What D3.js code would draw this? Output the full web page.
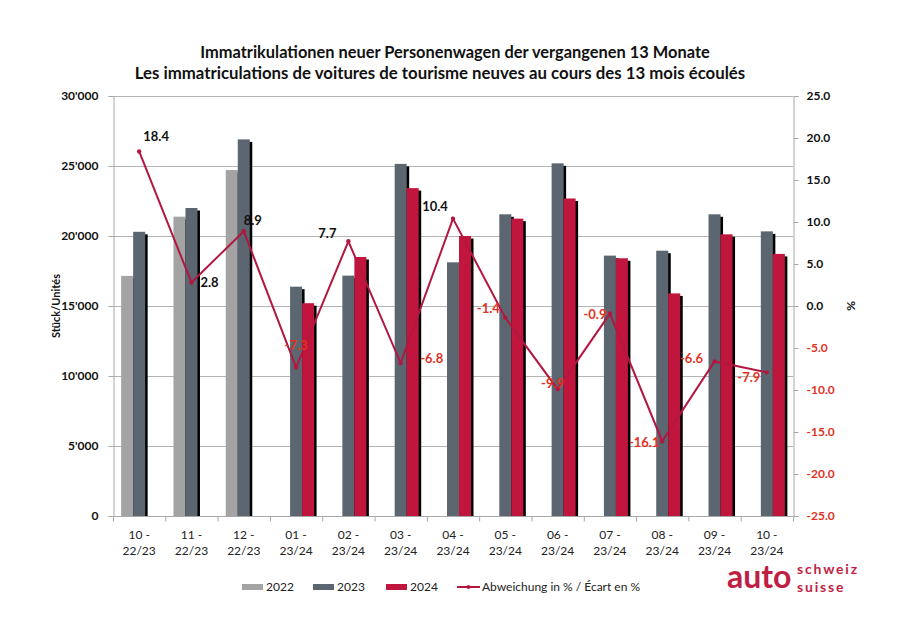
<!DOCTYPE html>
<html>
<head>
<meta charset="utf-8">
<script src="https://cdn.jsdelivr.net/npm/d3@7/dist/d3.min.js"></script>
<style>
  html, body { margin: 0; padding: 0; background: #fff; }
  svg { display: block; }
  text { font-family: Lato, "Open Sans", "DejaVu Sans", sans-serif; }
</style>
</head>
<body>
<svg id="chart" width="900" height="634"></svg>
<script>
// ---------- DATA ----------
const titleLines = [
  "Immatrikulationen neuer Personenwagen der vergangenen 13 Monate",
  "Les immatriculations de voitures de tourisme neuves au cours des 13 mois écoulés"
];
const categories = ["10 - 22/23", "11 - 22/23", "12 - 22/23", "01 - 23/24", "02 - 23/24", "03 - 23/24",
  "04 - 23/24", "05 - 23/24", "06 - 23/24", "07 - 23/24", "08 - 23/24", "09 - 23/24", "10 - 23/24"];
const seriesNames = ["2022", "2023", "2024"];
const values2022 = [17150, 21380, 24710, null, null, null, null, null, null, null, null, null, null];
const values2023 = [20300, 22000, 26900, 16380, 17170, 25150, 18120, 21550, 25190, 18600, 18950, 21550, 20330];
const values2024 = [null, null, null, 15200, 18500, 23420, 20000, 21240, 22680, 18410, 15900, 20120, 18720];
const deviationPct = [18.4, 2.8, 8.9, -7.3, 7.7, -6.8, 10.4, -1.4, -9.9, -0.9, -16.1, -6.6, -7.9];
const leftTicks = [0, 5000, 10000, 15000, 20000, 25000, 30000];
const rightTicks = [-25, -20, -15, -10, -5, 0, 5, 10, 15, 20, 25];
const leftAxisTitle = "Stück/Unités";
const rightAxisTitle = "%";
const lineLegend = "Abweichung in % / Écart en %";

// ---------- LAYOUT / STYLE ----------
const plot = { left: 113, right: 793, top: 96, bottom: 516 };
const colors = { "2022": "#a3a3a3", "2023": "#5b6671", "2024": "#c0163d" };
const lineColor = "#b3173f";
const negColor = "#e2321f";
// label offsets (dx, dy) of each deviation label centre relative to its point
const labelOffsets = [[17,-15],[18,0],[9,-11],[0,-22],[-21,-8],[31,-5],[-18,-12],[-17,-9],[-5,-6],[-15,1],[-18,1],[-23,-3],[-18,5]];

const svg = d3.select("#chart");
const seriesValues = { "2022": values2022, "2023": values2023, "2024": values2024 };

const x = d3.scaleBand().domain(categories).range([plot.left, plot.right]).paddingInner(0).paddingOuter(0);
const bw = x.bandwidth();
const xInner = d3.scaleBand().domain(seriesNames).range([bw / 2 - 18, bw / 2 + 18]).padding(0);
const yL = d3.scaleLinear().domain([0, 30000]).range([plot.bottom, plot.top]);
const yR = d3.scaleLinear().domain([-25, 25]).range([plot.bottom, plot.top]);

const locale = d3.formatLocale({ decimal: ".", thousands: "'", grouping: [3], currency: ["", ""], minus: "-" });
const fmtL = locale.format(",");
const fmtR = locale.format(".1f");

// gridlines
svg.append("g").selectAll("line").data(leftTicks.filter(d => d > 0)).join("line")
  .attr("x1", plot.left).attr("x2", plot.right)
  .attr("y1", d => yL(d) + 0.5).attr("y2", d => yL(d) + 0.5)
  .attr("stroke", "#b4b4b4").attr("stroke-width", 1);

// left axis
const gL = svg.append("g").attr("transform", `translate(${plot.left + 0.5},0)`)
  .call(d3.axisLeft(yL).tickValues(leftTicks).tickFormat(fmtL).tickSize(5).tickPadding(10));
gL.select(".domain").attr("stroke", "#a8a8a8");
gL.selectAll(".tick line").attr("stroke", "#a8a8a8");
gL.selectAll(".tick text").attr("font-size", 12).attr("font-weight", "bold").attr("fill", "#111");

// right axis
const gR = svg.append("g").attr("transform", `translate(${plot.right + 0.5},0)`)
  .call(d3.axisRight(yR).tickValues(rightTicks).tickFormat(fmtR).tickSize(5).tickPadding(8));
gR.select(".domain").attr("stroke", "#a8a8a8");
gR.selectAll(".tick line").attr("stroke", "#a8a8a8");
gR.selectAll(".tick text").attr("font-size", 12).attr("font-weight", "bold")
  .attr("fill", d => d < 0 ? negColor : "#111");

// bottom axis
const gB = svg.append("g").attr("transform", `translate(0,${plot.bottom + 0.5})`);
gB.append("line").attr("x1", plot.left).attr("x2", plot.right).attr("stroke", "#a8a8a8");
const boundaries = categories.map(c => x(c)).concat([plot.right]);
gB.selectAll("line.tk").data(boundaries).join("line").attr("class", "tk")
  .attr("x1", d => d + 0.5).attr("x2", d => d + 0.5).attr("y1", 0).attr("y2", 5).attr("stroke", "#a8a8a8");
const xl = gB.selectAll("text.xl").data(categories).join("text").attr("class", "xl")
  .attr("text-anchor", "middle").attr("font-size", 12).attr("fill", "#222")
  .attr("transform", d => `translate(${x(d) + bw / 2},0)`);
xl.append("tspan").attr("x", 0).attr("y", 22).text(d => d.split(" - ")[0] + " -");
xl.append("tspan").attr("x", 0).attr("y", 38).text(d => d.split(" - ")[1]);

// bars
seriesNames.forEach(s => {
  const data = categories.map((c, i) => ({ c, v: seriesValues[s][i] })).filter(d => d.v != null);
  const g = svg.append("g");
  const groups = g.selectAll("g").data(data).join("g");
  groups.append("rect")
    .attr("x", d => x(d.c) + xInner(s) + 2.5).attr("y", d => yL(d.v) + 2.5)
    .attr("width", xInner.bandwidth()).attr("height", d => yL(0) - yL(d.v) - 2.5)
    .attr("fill", "#000");
  groups.append("rect")
    .attr("x", d => x(d.c) + xInner(s)).attr("y", d => yL(d.v))
    .attr("width", xInner.bandwidth()).attr("height", d => yL(0) - yL(d.v))
    .attr("fill", colors[s]);
});

// deviation line
const pts = categories.map((c, i) => ({ c, v: deviationPct[i], i }));
const line = d3.line().x(d => x(d.c) + bw / 2).y(d => yR(d.v));
svg.append("path").datum(pts).attr("d", line).attr("fill", "none")
  .attr("stroke", lineColor).attr("stroke-width", 2).attr("stroke-linejoin", "miter");
svg.append("g").selectAll("circle").data(pts).join("circle")
  .attr("cx", d => x(d.c) + bw / 2).attr("cy", d => yR(d.v)).attr("r", 2.2).attr("fill", lineColor);
svg.append("g").selectAll("text").data(pts).join("text")
  .attr("x", d => x(d.c) + bw / 2 + labelOffsets[d.i][0])
  .attr("y", d => yR(d.v) + labelOffsets[d.i][1])
  .attr("dy", "0.35em").attr("text-anchor", "middle")
  .attr("font-size", 13).attr("font-weight", "bold")
  .attr("fill", d => d.v < 0 ? negColor : "#111")
  .text(d => fmtR(d.v));

// axis titles
svg.append("text").attr("transform", `translate(60,${(plot.top + plot.bottom) / 2}) rotate(-90)`)
  .attr("text-anchor", "middle").attr("font-size", 11).attr("font-weight", "bold").attr("fill", "#111")
  .text(leftAxisTitle);
svg.append("text").attr("transform", `translate(847,${(plot.top + plot.bottom) / 2}) rotate(90)`)
  .attr("text-anchor", "middle").attr("font-size", 12).attr("font-weight", "bold").attr("fill", "#111")
  .text(rightAxisTitle);

// title
svg.append("text").attr("x", 455).attr("y", 58).attr("text-anchor", "middle")
  .attr("font-size", 16.4).attr("font-weight", "bold").attr("fill", "#111").text(titleLines[0]);
svg.append("text").attr("x", 440).attr("y", 79).attr("text-anchor", "middle")
  .attr("font-size", 16.8).attr("font-weight", "bold").attr("fill", "#111").text(titleLines[1]);

// legend
const lg = svg.append("g").attr("transform", "translate(0,587)");
const legX = { "2022": 242, "2023": 313, "2024": 386 };
seriesNames.forEach(s => {
  lg.append("rect").attr("x", legX[s]).attr("y", -3).attr("width", 21).attr("height", 6).attr("fill", colors[s]);
  lg.append("text").attr("x", legX[s] + 24).attr("y", 0).attr("dy", "0.35em")
    .attr("font-size", 12).attr("fill", "#222").text(s);
});
lg.append("line").attr("x1", 457).attr("x2", 480).attr("y1", 0).attr("y2", 0)
  .attr("stroke", lineColor).attr("stroke-width", 2);
lg.append("circle").attr("cx", 468.5).attr("cy", 0).attr("r", 2).attr("fill", lineColor);
lg.append("text").attr("x", 482).attr("y", 0).attr("dy", "0.35em")
  .attr("font-size", 12).attr("fill", "#222").text(lineLegend);

// logo
const logo = svg.append("g").attr("fill", "#bf1f44").attr("font-weight", "bold")
  .attr("font-family", "\"Open Sans\", Lato, sans-serif");
logo.append("text").attr("x", 727).attr("y", 588).attr("font-size", 32).text("auto");
logo.append("text").attr("x", 797).attr("y", 574).attr("font-size", 14).attr("letter-spacing", 1.8).text("schweiz");
logo.append("text").attr("x", 797).attr("y", 592).attr("font-size", 14).attr("letter-spacing", 1.8).text("suisse");
</script>
</body>
</html>
